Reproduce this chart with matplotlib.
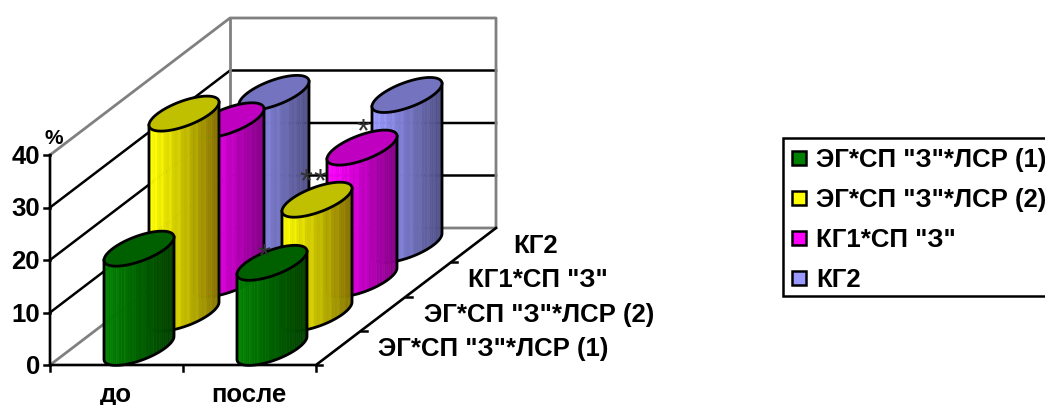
#! coding:utf-8
import numpy as np
import matplotlib
matplotlib.use('Agg')
import matplotlib.pyplot as plt
from matplotlib.collections import PolyCollection
from matplotlib.colors import to_rgb
from matplotlib.patches import Rectangle

plt.rcParams['font.family'] = ['Liberation Sans', 'DejaVu Sans']

# values, one list per group
categories = ['до', 'после']
groups = ['ЭГ*СП "З"*ЛСР (1)', 'ЭГ*СП "З"*ЛСР (2)', 'КГ1*СП "З"', 'КГ2']
group1 = [18.9, 16.2]
group2 = [38.1, 21.7]
group3 = [30.3, 25.1]
group4 = [29.0, 28.6]
yticks = [0, 10, 20, 30, 40]

bright = ['#008000', '#ffff00', '#ff00ff', '#9999ff']
dark = ['#003c00', '#807000', '#800080', '#4c4c80']
caps = ['#006000', '#c0c000', '#c000c0', '#7373bf']

# oblique projection of the 3d box onto the figure
X0, Y0 = 50.0, 365.0
WIDTH = 266.0
DEPTH_X, DEPTH_Y = 180.0, 137.0
UNIT = 5.25


def proj(cat, ser, val=0.0):
    x = X0 + cat*WIDTH/len(categories) + ser*DEPTH_X/len(groups)
    y = Y0 - ser*DEPTH_Y/len(groups) - val*UNIT
    return x, y


def ellipse(cx, cy, t):
    return cx + 26.4*np.cos(t) + 23.0*np.sin(t), cy - 17.5*np.sin(t)


def cylinder(ax, cat, ser, val, zorder):
    cx, cy0 = proj(cat + 0.5, ser + 0.5)
    cy1 = cy0 - val*UNIT
    t0 = np.arctan2(23.0, 26.4)
    t = np.linspace(t0 - np.pi, t0, 37)
    xb, yb = ellipse(cx, cy0, t)
    xt, yt = ellipse(cx, cy1, t)
    c0 = np.array(to_rgb(bright[ser]))
    c1 = np.array(to_rgb(dark[ser]))
    polys, cols = [], []
    for k in range(len(t) - 1):
        polys.append([(xb[k], yb[k]), (xb[k+1], yb[k+1]), (xt[k+1], yt[k+1]), (xt[k], yt[k])])
        frac = (xb[k] - xb[0])/(xb[-1] - xb[0])
        shade = c0 + (c1 - c0)*frac
        if k % 3 == 1:
            shade = np.clip(shade*1.06, 0, 1)
        cols.append(shade)
    ax.add_collection(PolyCollection(polys, facecolors=cols, edgecolors=cols,
                                     linewidths=0.4, zorder=zorder))
    ax.plot(np.r_[xt[0], xb, xt[-1]], np.r_[yt[0], yb, yt[-1]], color='black', lw=2.0,
            solid_joinstyle='round', zorder=zorder)
    full = np.linspace(0, 2*np.pi, 120)
    xc, yc = ellipse(cx, cy1, full)
    ax.fill(xc, yc, facecolor=caps[ser], edgecolor='black', lw=2.0, zorder=zorder)


fig = plt.figure(figsize=(10.45, 4.05), dpi=100)
ax = fig.add_axes([0, 0, 1, 1])
ax.set_xlim(0, 1045)
ax.set_ylim(405, 0)
ax.axis('off')

# walls and floor
n_ser = len(groups)
for v in yticks[1:-1]:
    x = [proj(0, 0, v)[0], proj(0, n_ser, v)[0], proj(2, n_ser, v)[0]]
    y = [proj(0, 0, v)[1], proj(0, n_ser, v)[1], proj(2, n_ser, v)[1]]
    ax.plot(x, y, color='black', lw=1.8, zorder=1)
wall = [proj(0, 0, 40), proj(0, n_ser, 40), proj(2, n_ser, 40), proj(2, n_ser, 0),
        proj(0, n_ser, 0), proj(0, 0, 0)]
ax.plot(*zip(*wall), color='#808080', lw=2.0, zorder=1)
ax.plot(*zip(proj(0, n_ser, 0), proj(0, n_ser, 40)), color='#808080', lw=2.0, zorder=1)

# axes lines and ticks
ax.plot(*zip(proj(0, 0, 40), proj(0, 0, 0), proj(2, 0, 0), proj(2, n_ser, 0)),
        color='black', lw=1.9, zorder=2)
for v in yticks:
    x, y = proj(0, 0, v)
    ax.plot([x - 6, x], [y, y], color='black', lw=1.8, zorder=2)
    ax.text(x - 10, y + 2, str(v), ha='right', va='center', fontsize=18.5, fontweight='bold')
for c in range(len(categories) + 1):
    x, y = proj(c, 0)
    ax.plot([x, x], [y, y + 6], color='black', lw=1.8, zorder=2)
for s in range(n_ser):
    x, y = proj(2, s)
    ax.plot([x, x + 6], [y, y], color='black', lw=1.8, zorder=2)

# columns, back row first
rows = [group1, group2, group3, group4]
for s in range(n_ser - 1, -1, -1):
    for c in range(len(categories)):
        cylinder(ax, c, s, rows[s][c], zorder=10 + 2*(n_ser - s))

for c, name in enumerate(categories):
    ax.text(proj(c + 0.5, 0)[0] - 1, 395, name, ha='center', va='center', fontsize=18.5, fontweight='bold')
for s, name in enumerate(groups):
    x, y = proj(2, s + 0.5)
    ax.text(x + 40, y + 1, name, ha='left', va='center', fontsize=18.5, fontweight='bold')

ax.text(54, 138, '%', ha='center', va='center', fontsize=15, fontweight='bold')

# significance marks
for x, y in [(264, 258), (306, 183), (320, 183), (363, 133)]:
    ax.text(x, y, '*', ha='center', va='center', fontsize=24, color='#333333',
            fontweight='normal', zorder=30)

# legend box
ax.add_patch(Rectangle((783, 138), 270, 158, facecolor='white', edgecolor='black', lw=1.8,
                       clip_on=True, zorder=3))
for s, name in enumerate(groups):
    yc = 158 + 40*s
    ax.add_patch(Rectangle((792, yc - 7), 14, 14, facecolor=bright[s], edgecolor='black', lw=1.8, zorder=4))
    ax.text(816, yc + 2, name, ha='left', va='center', fontsize=18.5, fontweight='bold', zorder=4)

fig.savefig('out.png', dpi=100)
plt.close()
